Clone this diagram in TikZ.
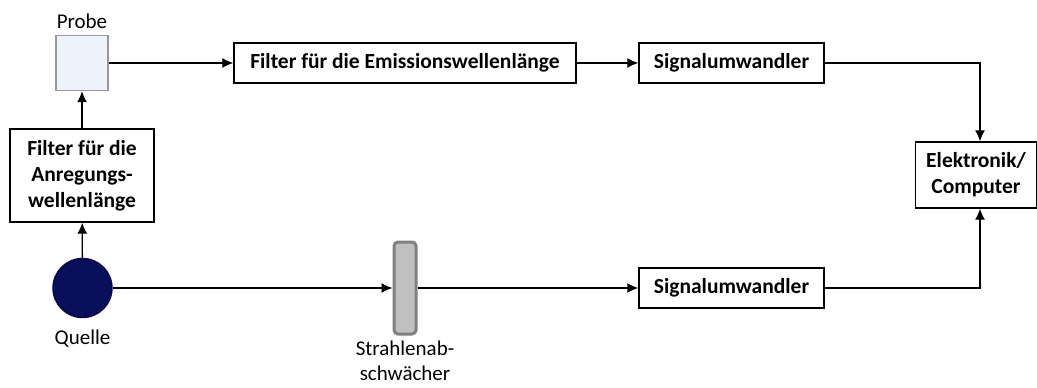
\documentclass[tikz,border=0pt]{standalone}
\usepackage{fontspec}
\setmainfont{Carlito}
\usetikzlibrary{arrows.meta}
\definecolor{quellblau}{HTML}{0A0F5C}
\definecolor{probenblau}{HTML}{EEF2FB}
\definecolor{grauton}{HTML}{C0C0C0}
\definecolor{graurand}{HTML}{808080}

\begin{document}
\begin{tikzpicture}[x=1pt,y=-1pt,
    font=\fontsize{21}{25.5}\selectfont,
    block/.style={draw,line width=1.4pt,font=\fontsize{21.5}{26}\selectfont\bfseries,align=center,inner sep=0pt},
    pfeil/.style={line width=1.3pt,-{Latex[length=11pt,width=10pt]}}]
    \useasboundingbox (0,0) rectangle (1037,388);

    % Quelle und Probe
    \node[circle,draw=quellblau!70!black,fill=quellblau,line width=1.4pt,minimum size=59pt,inner sep=0pt] (quelle) at (82.5,288) {};
    \node (quelletext) at (82.5,339) {Quelle};
    \node[draw=graurand!80,fill=probenblau,line width=1.4pt,minimum width=52pt,minimum height=55pt,inner sep=0pt] (probe) at (82,63) {};
    \node (probetext) at (82,21) {Probe};

    % Filter
    \node[block,minimum width=144pt,minimum height=93pt] (anregung) at (82,175.5) {Filter für die\\Anregungs-\\wellenlänge};
    \node[block,minimum width=342pt,minimum height=40pt] (emission) at (405,63) {Filter für die Emissionswellenlänge};

    % Strahlenabschwaecher
    \node[draw=graurand,fill=grauton,line width=3pt,rounded corners=4pt,minimum width=22pt,minimum height=92pt,inner sep=0pt] (abschw) at (405,288) {};
    \node[align=center] (abschwtext) at (405,361) {Strahlenab-\\schwächer};

    % Signalumwandler und Elektronik
    \node[block,minimum width=185pt,minimum height=40pt] (wandlerA) at (731.5,63) {Signalumwandler};
    \node[block,minimum width=185pt,minimum height=40pt] (wandlerB) at (731.5,288) {Signalumwandler};
    \node[block,minimum width=121pt,minimum height=66pt] (elektronik) at (976,175) {Elektronik/\\Computer};

    % Verbindungen
    \draw[pfeil] (quelle) -- (anregung);
    \draw[pfeil] (anregung) -- (probe);
    \draw[pfeil] (probe) -- (emission);
    \draw[pfeil] (emission) -- (wandlerA);
    \draw[pfeil] (wandlerA.east) -| ([xshift=4pt]elektronik.north);
    \draw[pfeil] (quelle) -- (abschw);
    \draw[pfeil] (abschw) -- (wandlerB);
    \draw[pfeil] (wandlerB.east) -| ([xshift=4pt]elektronik.south);
\end{tikzpicture}
\end{document}
